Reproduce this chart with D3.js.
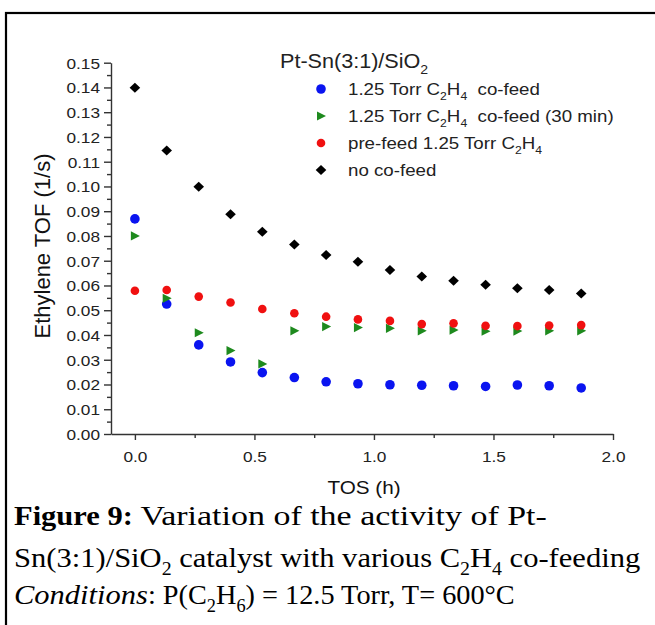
<!DOCTYPE html>
<html><head><meta charset="utf-8">
<script src="https://cdn.jsdelivr.net/npm/d3@7"></script>
<style>body{margin:0;background:#fff}svg{display:block}</style>
</head><body>
<svg id="chart" width="655" height="625"></svg>
<script>
// ---- data ----
const tos = [0, 0.133, 0.267, 0.4, 0.533, 0.667, 0.8, 0.933, 1.067, 1.2, 1.333, 1.467, 1.6, 1.733, 1.867];
const cofeed = [0.0869, 0.0525, 0.0360, 0.0291, 0.0248, 0.0228, 0.0211, 0.0203, 0.0199, 0.0197, 0.0195, 0.0192, 0.0198, 0.0195, 0.0186];
const cofeed30 = [0.0800, 0.0548, 0.0409, 0.0337, 0.0283, 0.0417, 0.0434, 0.0430, 0.0427, 0.0417, 0.0420, 0.0415, 0.0416, 0.0417, 0.0417];
const prefeed = [0.0579, 0.0582, 0.0555, 0.0531, 0.0505, 0.0488, 0.0474, 0.0463, 0.0457, 0.0444, 0.0447, 0.0437, 0.0436, 0.0438, 0.0440];
const nocofeed = [0.1399, 0.1145, 0.0999, 0.0888, 0.0817, 0.0766, 0.0723, 0.0696, 0.0663, 0.0636, 0.0619, 0.0603, 0.0589, 0.0582, 0.0568];
const xTicks = [0, 0.5, 1.0, 1.5, 2.0];
const xMinor = [0.25, 0.75, 1.25, 1.75];
const yTicks = [0,0.01,0.02,0.03,0.04,0.05,0.06,0.07,0.08,0.09,0.10,0.11,0.12,0.13,0.14,0.15];
const yMinor = [0.005,0.015,0.025,0.035,0.045,0.055,0.065,0.075,0.085,0.095,0.105,0.115,0.125,0.135,0.145];
const seriesNames = ["cofeed", "cofeed30", "prefeed", "nocofeed"];

const svg = d3.select("#chart");
const SANS = "'Liberation Sans', Arial, sans-serif";
const SERIF = "'Liberation Serif', 'Times New Roman', serif";

// frame
svg.append("rect").attr("x", 6).attr("y", 13).attr("width", 720).attr("height", 700)
  .attr("fill", "none").attr("stroke", "#000").attr("stroke-width", 2.2);

const x = d3.scaleLinear().domain([-0.1, 2.0]).range([111, 613]);
const y = d3.scaleLinear().domain([0, 0.15]).range([434, 62.7]);

const axisColor = "#333";
// y axis
const gy = svg.append("g").attr("transform", `translate(${x(-0.1)},0)`);
gy.call(d3.axisLeft(y).tickValues(yTicks).tickSize(7).tickSizeOuter(0).tickFormat(d3.format(".2f")));
const gym = svg.append("g").attr("transform", `translate(${x(-0.1)},0)`);
gym.call(d3.axisLeft(y).tickValues(yMinor).tickSize(4).tickSizeOuter(0).tickFormat(""));
gym.select(".domain").remove();
// x axis
const gx = svg.append("g").attr("transform", `translate(0,${y(0)})`);
gx.call(d3.axisBottom(x).tickValues(xTicks).tickSize(6).tickSizeOuter(0).tickFormat(d3.format(".1f")));
const gxm = svg.append("g").attr("transform", `translate(0,${y(0)})`);
gxm.call(d3.axisBottom(x).tickValues(xMinor).tickSize(4).tickSizeOuter(0).tickFormat(""));
gxm.select(".domain").remove();

svg.selectAll(".domain, .tick line").attr("stroke", axisColor).attr("stroke-width", 1.4);
gy.selectAll(".tick text").attr("font-family", SANS).attr("font-size", 15).attr("fill", "#222")
  .attr("x", null).attr("dy", null)
  .attr("transform", "translate(-11,5.5) scale(1.15,1)");
gx.selectAll(".tick text").attr("font-family", SANS).attr("font-size", 15).attr("fill", "#222")
  .attr("y", null).attr("dy", null)
  .attr("transform", "translate(0,28) scale(1.15,1)");

// axis titles
svg.append("text").attr("font-family", SANS).attr("font-size", 18).attr("fill", "#111")
  .attr("text-anchor", "middle").attr("transform", `translate(364,494) scale(1.15,1)`)
  .text("TOS (h)");
svg.append("text").attr("font-family", SANS).attr("font-size", 22).attr("fill", "#111")
  .attr("text-anchor", "middle").attr("transform", "translate(50,246) rotate(-90)")
  .text("Ethylene TOF (1/s)");

// markers
const diamond = "M0,-5 L5.3,0 L0,5 L-5.3,0 Z";
const tri = "M-4,-4.6 L5,0 L-4,4.6 Z";
const series = [
  {name: seriesNames[0], vals: cofeed, color: "#0a14f0", shape: "circle", r: 4.8},
  {name: seriesNames[1], vals: cofeed30, color: "#1e8a1e", shape: tri},
  {name: seriesNames[2], vals: prefeed, color: "#f01010", shape: "circle", r: 4.3},
  {name: seriesNames[3], vals: nocofeed, color: "#000", shape: diamond}
];
function drawMarker(g, s, cx, cy) {
  if (s.shape === "circle") g.append("circle").attr("cx", cx).attr("cy", cy).attr("r", s.r).attr("fill", s.color);
  else g.append("path").attr("d", s.shape).attr("transform", `translate(${cx},${cy})`).attr("fill", s.color);
}
const pts = svg.append("g");
series.forEach(s => {
  const g = pts.append("g");
  s.vals.forEach((v, i) => drawMarker(g, s, x(tos[i]), y(v)));
});

// rich text with subscripts (no empty tspans)
function richText(parent, tx, ty, size, sx, parts) {
  const t = parent.append("text").attr("font-size", size)
    .attr("transform", `translate(${tx},${ty}) scale(${sx},1)`);
  const d = size * 0.28;
  let pending = 0;
  parts.forEach(p => {
    let ts;
    if (typeof p === "string") ts = t.append("tspan").text(p);
    else if (p.sub) {
      ts = t.append("tspan").attr("font-size", size * 0.65).text(p.sub);
      ts.attr("dy", pending + d); pending = -d; return;
    } else {
      ts = t.append("tspan").text(p.t);
      if (p.b) ts.attr("font-weight", "bold");
      if (p.i) ts.attr("font-style", "italic");
    }
    if (pending) { ts.attr("dy", pending); pending = 0; }
  });
  return t;
}

// legend
const leg = svg.append("g").attr("font-family", SANS).attr("fill", "#222");
richText(leg, 280, 68, 20, 1.08, ["Pt-Sn(3:1)/SiO", {sub: "2"}]);
const legLabels = [
  ["1.25 Torr C", {sub: "2"}, "H", {sub: "4"}, "\u00A0 co-feed"],
  ["1.25 Torr C", {sub: "2"}, "H", {sub: "4"}, "\u00A0 co-feed (30 min)"],
  ["pre-feed 1.25 Torr C", {sub: "2"}, "H", {sub: "4"}],
  ["no co-feed"]
];
const legY = [89, 116, 143, 170];
series.forEach((s, i) => {
  drawMarker(leg, s, 321, legY[i]);
  richText(leg, 348, legY[i] + 6, 17, 1.1, legLabels[i]);
});

// caption: each line = lead segment at natural width + rest fitted to the reference's line end
const cap = svg.append("g").attr("font-family", SERIF).attr("fill", "#000");
const capSize = 28, capSx = 1.09;
const capLines = [
  [[{t: "Figure 9:", b: true}], ["Variation of the activity of Pt-"], 525, 547, true],
  [["Sn(3:1)/SiO", {sub: "2"}, " catalyst with various C", {sub: "2"}, "H", {sub: "4"}, " co-feeding"], null, 567, 640, false],
  [[{t: "Conditions", i: true}], [": P(C", {sub: "2"}, "H", {sub: "6"}, ") = 12.5 Torr, T= 600°C"], 604, 515, false]
];
capLines.forEach(([lead, rest, by, right, gap]) => {
  const a = richText(cap, 14, by, capSize, capSx, lead);
  const wa = a.node().getComputedTextLength() * capSx;
  if (!rest) {
    a.attr("transform", `translate(14,${by}) scale(${(right - 14) / (wa / capSx)},1)`);
    return;
  }
  const x0 = 14 + wa + (gap ? capSize * 0.25 * capSx : 0);
  const b = richText(cap, x0, by, capSize, 1, rest);
  const wb = b.node().getComputedTextLength();
  b.attr("transform", `translate(${x0},${by}) scale(${(right - x0) / wb},1)`);
});
</script>
</body></html>
